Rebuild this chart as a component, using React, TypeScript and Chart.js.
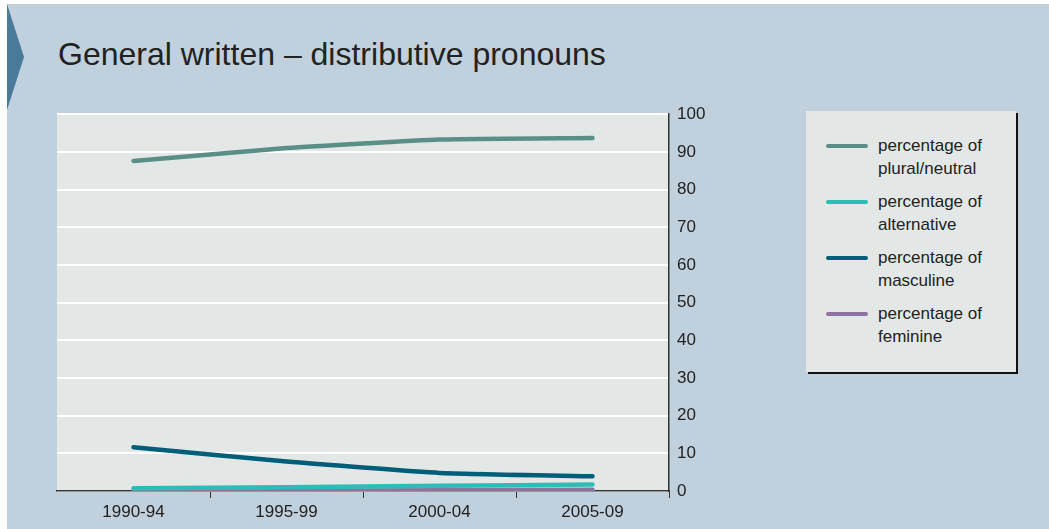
import React, { useEffect, useRef } from "react";
import { Chart, registerables } from "chart.js";

Chart.register(...registerables);

const title = "General written – distributive pronouns";
const categories = ["1990-94", "1995-99", "2000-04", "2005-09"];
const seriesNames = [
  ["percentage of", "plural/neutral"],
  ["percentage of", "alternative"],
  ["percentage of", "masculine"],
  ["percentage of", "feminine"],
];
const seriesColors = ["#5a8f88", "#2dbdb6", "#005e78", "#8e72a0"];
const pluralNeutral = [87.6, 91.0, 93.3, 93.7];
const alternative = [0.7, 1.0, 1.4, 1.7];
const masculine = [11.6, 7.8, 4.8, 3.9];
const feminine = [0.1, 0.1, 0.2, 0.3];
const seriesValues = [pluralNeutral, alternative, masculine, feminine];
const yTicks = [0, 10, 20, 30, 40, 50, 60, 70, 80, 90, 100];

const plotBg = {
  id: "plotBg",
  beforeDraw(chart: any) {
    const { ctx, chartArea } = chart;
    ctx.save();
    ctx.fillStyle = "#e3e8e6";
    ctx.fillRect(chartArea.left, chartArea.top, chartArea.right - chartArea.left, chartArea.bottom - chartArea.top);
    ctx.restore();
  },
};

export default function App() {
  const ref = useRef<HTMLCanvasElement | null>(null);
  useEffect(() => {
    if (!ref.current) return;
    const chart = new Chart(ref.current, {
      type: "line",
      data: {
        labels: categories,
        datasets: seriesValues.map((vals, i) => ({
          label: seriesNames[i].join(" "),
          data: vals,
          borderColor: seriesColors[i],
          backgroundColor: seriesColors[i],
          borderWidth: 4.5,
          borderCapStyle: "round" as const,
          borderJoinStyle: "round" as const,
          pointRadius: 0,
          tension: 0.15,
          fill: false,
        })),
      },
      options: {
        animation: false,
        responsive: false,
        maintainAspectRatio: false,
        layout: { padding: { left: 50, top: 1, right: 0, bottom: 0 } },
        plugins: { legend: { display: false }, tooltip: { enabled: false } },
        scales: {
          x: {
            offset: true,
            grid: {
              offset: true,
              drawOnChartArea: false,
              drawTicks: true,
              tickLength: 7,
              color: (ctx: any) =>
                ctx.index === 0 || ctx.index >= categories.length ? "rgba(0,0,0,0)" : "#333",
              lineWidth: 1,
            },
            border: { display: true, color: "#333", width: 1.5 },
            ticks: {
              color: "#222",
              font: { family: "'Liberation Sans Narrow', 'Liberation Sans', Arial", size: 17 },
              padding: 4,
              maxRotation: 0,
            },
            afterFit(scale: any) {
              scale.height = 30;
            },
          },
          y: {
            position: "right",
            min: 0,
            max: 100,
            afterBuildTicks(scale: any) {
              scale.ticks = yTicks.map((v) => ({ value: v }));
            },
            grid: { color: "#ffffff", lineWidth: 2, drawTicks: false },
            border: { display: true, color: "#333", width: 1.5 },
            ticks: {
              color: "#222",
              padding: 8,
              font: { family: "'Liberation Sans', Arial", size: 17 },
            },
            afterFit(scale: any) {
              scale.width = 40;
            },
          },
        },
      },
      plugins: [plotBg],
    });
    return () => chart.destroy();
  }, []);

  return (
    <div
      style={{
        position: "absolute",
        left: 7,
        top: 4,
        width: 1042,
        height: 525,
        background: "#c0d0dc",
        overflow: "hidden",
        fontFamily: "'Liberation Sans', Arial, sans-serif",
      }}
    >
      <div
        style={{
          position: "absolute",
          left: 0,
          top: 0,
          width: 0,
          height: 0,
          borderTop: "53px solid transparent",
          borderBottom: "53px solid transparent",
          borderLeft: "17px solid #4a7a9a",
        }}
      />
      <div
        style={{
          position: "absolute",
          left: 51,
          top: 30,
          fontSize: 32,
          lineHeight: "40px",
          color: "#222",
          whiteSpace: "nowrap",
        }}
      >
        {title}
      </div>
      <canvas
        ref={ref}
        width={702}
        height={425}
        style={{ position: "absolute", left: 0, top: 92, width: 702, height: 425 }}
      />
      <div
        style={{
          position: "absolute",
          left: 799,
          top: 107,
          width: 210,
          height: 261,
          background: "#e3e8e6",
          boxShadow: "2px 2px 0 #111",
        }}
      >
        {seriesNames.map((lines, i) => (
          <div
            key={i}
            style={{ position: "absolute", left: 0, top: 23 + i * 56, width: 210, height: 46 }}
          >
            <div
              style={{
                position: "absolute",
                left: 20,
                top: 10,
                width: 42,
                height: 4,
                borderRadius: 2,
                background: seriesColors[i],
              }}
            />
            <div
              style={{
                position: "absolute",
                left: 72,
                top: 0,
                fontSize: 17,
                lineHeight: "23px",
                color: "#222",
                whiteSpace: "nowrap",
              }}
            >
              {lines.map((l, j) => (
                <div key={j}>{l}</div>
              ))}
            </div>
          </div>
        ))}
      </div>
    </div>
  );
}
